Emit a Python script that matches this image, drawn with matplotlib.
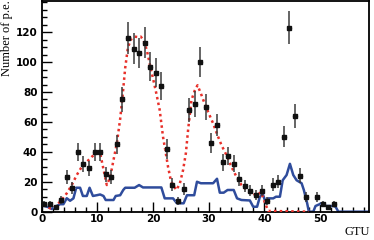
import numpy as np
import matplotlib
matplotlib.use('Agg')
import matplotlib.pyplot as plt
from matplotlib.ticker import MultipleLocator, FixedLocator

# measured counts (black points)
gtu = [0.5, 1.5, 2.5, 3.5, 4.5, 5.5, 6.5, 7.5, 8.5, 9.5, 10.5, 11.5, 12.5, 13.5,
       14.5, 15.5, 16.5, 17.5, 18.5, 19.5, 20.5, 21.5, 22.5, 23.5, 24.5, 25.5,
       26.5, 27.5, 28.5, 29.5, 30.5, 31.5, 32.5, 33.5, 34.5, 35.5, 36.5, 37.5,
       38.5, 39.5, 40.5, 41.5, 42.5, 43.5, 44.5, 45.5, 46.5, 47.5, 49.5, 50.5,
       51.5, 52.5]
counts = [5, 5, 3, 8, 23, 16, 40, 32, 29, 40, 40, 25, 23, 45,
          75, 116, 109, 106, 113, 97, 93, 84, 42, 18, 7, 15,
          68, 72, 100, 70, 46, 58, 33, 37, 32, 22, 17, 14,
          11, 14, 7, 18, 20, 50, 123, 64, 24, 10, 10, 5,
          3, 5]
errors = [2.2, 2.2, 1.7, 2.8, 4.8, 4.0, 6.0, 5.5, 5.2, 6.0, 6.0, 5.0, 4.8, 6.5,
          8.5, 10.5, 10.3, 10.3, 10.6, 9.8, 9.6, 9.2, 6.5, 4.2, 2.6, 3.9,
          8.2, 8.5, 10.0, 8.4, 6.8, 7.6, 5.7, 6.1, 5.7, 4.7, 4.1, 3.7,
          3.3, 3.7, 2.6, 4.2, 4.5, 7.1, 11.0, 8.0, 4.9, 3.2, 3.2, 2.2,
          1.7, 2.2]

# fitted curve (red dotted)
fit_x = [0.3, 1.5, 2.4, 3.6, 4.5, 5.4, 6.3, 7.2, 8.1, 9.0, 9.9, 10.5, 10.9, 11.4,
         11.7, 12.3, 12.9, 13.5, 14.1, 14.5, 15.0, 15.5, 16.1, 16.7, 17.3, 17.8,
         18.3, 18.9, 19.4, 20.0, 20.6, 21.2, 21.5, 21.8, 22.3, 22.7, 23.2, 23.6,
         24.2, 24.8, 25.4, 25.9, 26.3, 26.9, 27.5, 28.0, 28.6, 29.2, 29.9, 30.8,
         31.6, 32.3, 33.2, 34.1, 35.0, 35.9, 36.8, 37.7, 38.6, 39.4, 40.0, 40.7, 48.0]
fit_y = [4.5, 2.3, 3.3, 7.8, 12.3, 17.8, 24.5, 30, 33.3, 36.7, 39.3, 39, 32, 23,
         17.8, 23, 34.5, 45.6, 62, 76, 96, 110, 115.5, 117, 116.7, 117,
         114.5, 107.8, 99, 89, 79, 68, 59, 50, 39, 30, 21, 17.8,
         14.5, 18.5, 27.8, 39, 54.5, 74.5, 81, 84.5, 79, 73, 66.7, 59,
         51, 44.5, 37.8, 30, 23.3, 17.8, 14.5, 12.3, 11, 13, 7, 0.5, 0]

# second component (blue line)
bg_x = [0.3, 1.2, 1.8, 2.4, 3.3, 3.9, 4.5, 5.1, 5.7, 6.2, 6.9, 7.4, 8.1, 8.6,
        9.2, 9.9, 10.5, 11.1, 11.5, 12.9, 13.3, 14.1, 14.65, 15.0, 16.7, 17.5,
        18.2, 21.5, 22.1, 23.6, 24.3, 25.5, 26.1, 27.4, 27.9, 28.6, 30.8, 31.5,
        32.0, 32.7, 33.4, 34.5, 35.1, 35.9, 37.4, 38.0, 38.7, 39.2, 39.7, 40.3,
        40.7, 41.6, 42.1, 42.8, 43.3, 44.0, 44.6, 45.2, 45.8, 46.7, 47.1, 47.7,
        48.0, 48.8, 49.2, 50.3, 51.2, 52.4, 52.8, 53.3, 59.0]
bg_y = [4, 3, 1.8, 3.3, 5, 5, 9, 7.3, 8.9, 16, 16, 10.5, 10.5, 16,
        10.5, 11, 11.5, 10.5, 7.8, 7.8, 10.5, 11, 14.5, 16, 16, 17.8,
        16.2, 16.2, 8.9, 8.9, 5.6, 5.6, 11, 11, 20, 19, 19, 22,
        12.7, 12.7, 14.5, 14.5, 8.9, 7.8, 7.5, 3.3, 3.3, 10, 12, 5.6,
        8.9, 8.9, 10, 10, 21, 24.5, 32, 24.5, 21, 19, 14.5, 5.6,
        0, 0, 3.8, 5.6, 3.8, 3.8, 3.3, 0, 0]

y_major = [0, 20, 40, 60, 80, 100, 120]

fig = plt.figure(figsize=(3.74, 2.40), dpi=100)
ax = fig.add_axes([0.1115, 0.118, 0.875, 0.879])

ax.plot(bg_x, bg_y, color='#2f4c9c', lw=1.8, zorder=2)
ax.plot(fit_x, fit_y, color='#e8302a', lw=1.8, ls=(0, (1, 1.3)), zorder=3)

ax.errorbar(gtu, counts, xerr=0.5, fmt='none', ecolor='#c8c8c8', elinewidth=0.8, zorder=4)
ax.errorbar(gtu, counts, yerr=errors, fmt='s', color='#111111', ms=2.6,
            ecolor='#3a3a3a', elinewidth=1.1, capsize=0, zorder=5)

ax.set_xlim(0, 58.8)
ax.set_ylim(0, 141)
ax.xaxis.set_major_locator(MultipleLocator(10))
ax.xaxis.set_minor_locator(MultipleLocator(2))
ax.yaxis.set_major_locator(FixedLocator(y_major))
ax.yaxis.set_minor_locator(MultipleLocator(5))
ax.tick_params(which='both', direction='in', width=1.0, labelsize=7.5)
ax.tick_params(which='major', length=7)
ax.tick_params(which='minor', length=3.5)
ax.tick_params(axis='x', pad=1.5)
ax.tick_params(axis='y', pad=3)
for lab in ax.get_xticklabels() + ax.get_yticklabels():
    lab.set_fontweight('bold')
for sp in ax.spines.values():
    sp.set_linewidth(1.3)

fig.text(0.019, 0.998, 'Number of p.e.', rotation=90, ha='center', va='top',
         family='Liberation Serif', fontsize=9)
fig.text(0.99, 0.035, 'GTU', ha='right', va='center',
         family='Liberation Serif', fontsize=9)

fig.savefig('out.png', dpi=100)
